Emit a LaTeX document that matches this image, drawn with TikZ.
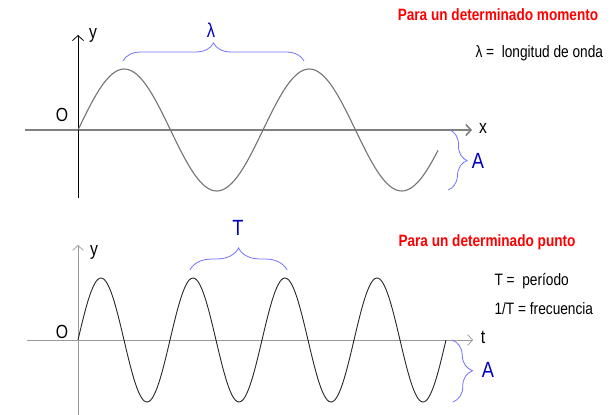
\documentclass[tikz,border=0pt]{standalone}
\usepackage{fontspec}
\setmainfont{Liberation Sans}[FakeStretch=0.83]
\usetikzlibrary{arrows.meta,decorations.pathreplacing}

\tikzset{
  eje/.style={-{Straight Barb[length=5pt,width=11pt]}},
  onda/.style={gray!50!black, line width=1pt, smooth},
  llave/.style={decorate, decoration={brace, amplitude=#1}, blue!55!white, line width=0.8pt},
  rotulo/.style={font=\fontsize{19}{22}\selectfont},
  magnitud/.style={font=\fontsize{22}{26}\selectfont, text=blue!75!black},
  titulo/.style={font=\fontsize{16.4}{19}\selectfont\bfseries, text=red},
  texto/.style={font=\fontsize{16.5}{19}\selectfont, anchor=west},
}

\begin{document}
\begin{tikzpicture}[x=1pt, y=-1pt]
\useasboundingbox (0,0) rectangle (616,415);

% Para un determinado momento
\coordinate (x1a) at (25,130);
\coordinate (x1b) at (472,130);
\coordinate (y1a) at (78,198);
\coordinate (y1b) at (78,35);
\draw[eje, gray, line width=1.6pt] (x1a) -- (x1b);
\draw[eje, black, line width=0.8pt] (y1a) -- (y1b);
\node[rotulo] (ly1) at (93,35) {y};
\node[rotulo] (lo1) at (62,115) {O};
\node[rotulo] (lx1) at (483,128) {x};

% lambda = 185
\draw[onda, gray!90!black, line width=1.1pt] plot[domain=78:438, samples=160] (\x, {130-61*sin((\x-78)*1.94595)});

\coordinate (l1) at (123,61);
\coordinate (l2) at (304,61);
\draw[llave=18pt] (l1) -- (l2);
\node[magnitud, font=\fontsize{20}{23}\selectfont] (lambda) at (211,30) {λ};

\coordinate (a1) at (450,130);
\coordinate (a2) at (448,190);
\draw[llave=18pt] (a1) -- (a2);
\node[magnitud] (amp1) at (478,161) {A};

\node[titulo] (tit1) at (498,15) {Para un determinado momento};
\node[texto] (def1) at (472,53) {λ =\ \ longitud de onda};

% Para un determinado punto
\coordinate (x2a) at (27,340);
\coordinate (x2b) at (473,340);
\coordinate (y2a) at (78,415);
\coordinate (y2b) at (78,245);
\draw[eje, gray!80, line width=0.7pt] (x2a) -- (x2b);
\draw[eje, gray!80, line width=0.7pt] (y2a) -- (y2b);
\node[rotulo] (ly2) at (94,252) {y};
\node[rotulo] (lo2) at (62,332) {O};
\node[rotulo] (lt2) at (483,337) {t};

% T = 92
\draw[onda, black!85, line width=0.9pt] plot[domain=78:446, samples=240] (\x, {340-62*sin((\x-78)*3.91304)});

\coordinate (t1) at (190,270);
\coordinate (t2) at (287,270);
\draw[llave=22pt] (t1) -- (t2);
\node[magnitud] (per) at (238,228) {T};

\coordinate (a3) at (452,340);
\coordinate (a4) at (453,402);
\draw[llave=20pt] (a3) -- (a4);
\node[magnitud] (amp2) at (488,370) {A};

\node[titulo] (tit2) at (487,242) {Para un determinado punto};
\node[texto] (def2) at (491,281) {T =\ \ período};
\node[texto] (def3) at (491,309) {1/T = frecuencia};
\end{tikzpicture}
\end{document}
